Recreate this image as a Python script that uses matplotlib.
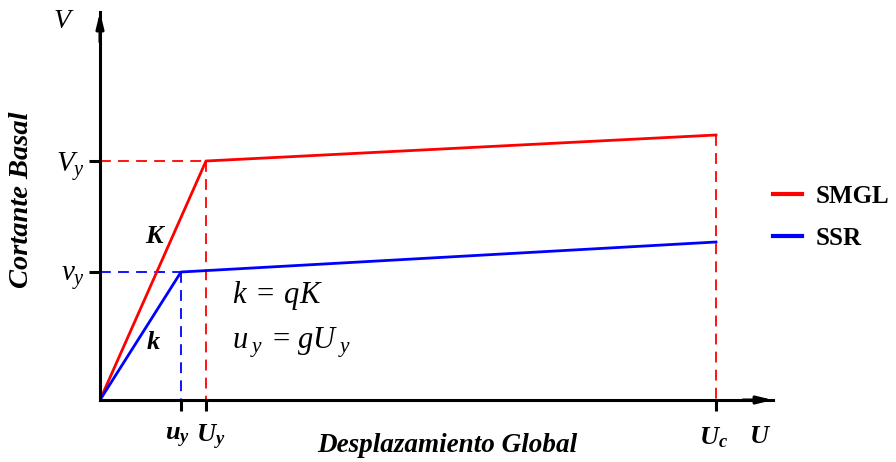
import matplotlib
matplotlib.use("Agg")
import matplotlib.pyplot as plt

plt.rcParams['mathtext.fontset'] = 'custom'
plt.rcParams['mathtext.rm'] = 'Liberation Serif'
plt.rcParams['mathtext.it'] = 'Liberation Serif:italic'
plt.rcParams['mathtext.bf'] = 'Liberation Serif:bold'
plt.rcParams['mathtext.bfit'] = 'Liberation Serif:italic:bold'
plt.rcParams['font.family'] = ['Liberation Serif', 'DejaVu Serif']

# ---- data (arbitrary units) ----
series_names = ['SMGL', 'SSR']
series_colors = ['#ff0000', '#0000ff']
smgl_x = [0, 106, 616]
smgl_y = [0, 239, 265]
ssr_x = [0, 81, 616]
ssr_y = [0, 128, 158]
x_tick_vals = [81, 106, 616]
x_tick_labels = [r'$\mathbfit{u_y}$', r'$\mathbfit{U_y}$', r'$\mathbfit{U_c}$']
y_tick_vals = [128, 239]
y_tick_labels = [r'$v_y$', r'$V_y$']
x_max, y_max = 673, 388

fig = plt.figure(figsize=(8.96, 4.62), dpi=100)
ax = fig.add_axes([100/896, 62/462, x_max/896, y_max/462])
ax.set_xlim(0, x_max)
ax.set_ylim(0, y_max)
for s in ['top', 'right']:
    ax.spines[s].set_visible(False)
for s in ['left', 'bottom']:
    ax.spines[s].set_linewidth(2.2)

# dashed guides
Uy, Vy = smgl_x[1], smgl_y[1]
uy, vy = ssr_x[1], ssr_y[1]
Uc = smgl_x[2]
dkw = dict(lw=1.3, ls=(0, (6, 4)))
ax.plot([0, Uy], [Vy, Vy], color=series_colors[0], **dkw)
ax.plot([Uy, Uy], [Vy, 0], color=series_colors[0], **dkw)
ax.plot([Uc, Uc], [smgl_y[2], 0], color=series_colors[0], **dkw)
ax.plot([0, uy], [vy, vy], color=series_colors[1], **dkw)
ax.plot([uy, uy], [vy, 0], color=series_colors[1], **dkw)

# main curves
l1, = ax.plot(smgl_x, smgl_y, color=series_colors[0], lw=2.0, label=series_names[0])
l2, = ax.plot(ssr_x, ssr_y, color=series_colors[1], lw=2.0, label=series_names[1])

# arrows at axis ends
ax.annotate('', xy=(x_max, 0), xytext=(x_max - 30, 0),
            arrowprops=dict(arrowstyle='-|>,head_length=0.9,head_width=0.22', lw=2.2,
                            color='black', shrinkA=0, shrinkB=0), annotation_clip=False)
ax.annotate('', xy=(0, y_max), xytext=(0, y_max - 30),
            arrowprops=dict(arrowstyle='-|>,head_length=0.9,head_width=0.22', lw=2.2,
                            color='black', shrinkA=0, shrinkB=0), annotation_clip=False)

ax.set_xticks(x_tick_vals)
ax.set_xticklabels([])
ax.set_yticks(y_tick_vals)
ax.set_yticklabels(y_tick_labels, fontsize=21)
ax.tick_params(axis='both', direction='out', length=8, width=2.2, pad=3)

# x tick labels placed with small offsets (points) so the close pair does not collide
x_label_offsets = [-3, 5, -2]
for xv, lab, off in zip(x_tick_vals, x_tick_labels, x_label_offsets):
    ax.annotate(lab, xy=(xv, 0), xytext=(off * 0.72, -27), textcoords='offset points',
                fontsize=19, ha='center', va='center', annotation_clip=False)

# axis names
ax.text(-36, y_max - 9, r'$V$', fontsize=20, ha='center', va='center')
ax.text(x_max - 13, -37, r'$\mathbfit{U}$', fontsize=19, ha='center', va='center')
fig.text(22/896, 1 - 200/462, 'Cortante Basal', fontsize=20.5, fontweight='bold',
         fontstyle='italic', rotation=90, ha='center', va='center')
fig.text(447/896, 1 - 445/462, 'Desplazamiento Global', fontsize=19.5, fontweight='bold',
         fontstyle='italic', ha='center', va='center')

# annotations
ax.text(56, 163, r'$\mathbfit{K}$', fontsize=19, ha='center', va='center')
ax.text(53, 57, r'$\mathbfit{k}$', fontsize=19, ha='center', va='center')
ax.text(132, 104, r'$k\;=\;qK$', fontsize=22, ha='left', va='center')
ax.text(132, 57, r'$u_{\;y}\;=\,gU_{\;y}$', fontsize=22, ha='left', va='center')

leg = fig.legend(handles=[l1, l2], loc='upper left', bbox_to_anchor=(773/896, 1 - 185/462),
                 frameon=False, prop={'family': 'Liberation Serif', 'weight': 'bold', 'size': 18},
                 handlelength=1.15, labelspacing=0.75, handletextpad=0.55,
                 borderpad=0, borderaxespad=0)
for h in leg.legend_handles:
    h.set_linewidth(3)

fig.savefig('out.png', dpi=100)
